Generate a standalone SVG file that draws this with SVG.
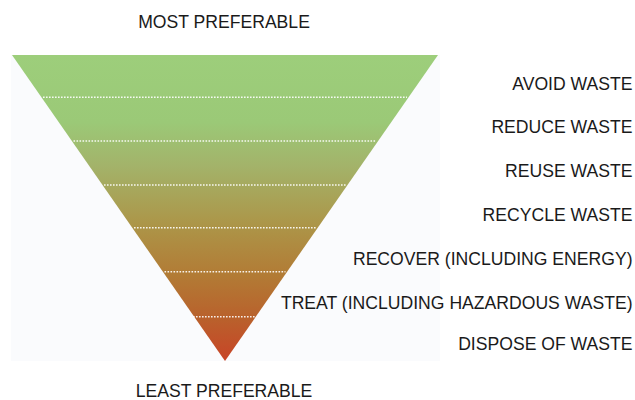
<svg xmlns="http://www.w3.org/2000/svg" width="635" height="400" viewBox="0 0 635 400">
  <style>
    text { font-family: "Liberation Sans", Arial, Helvetica, sans-serif; font-size: 17.6px; fill: #1a1a1a; }
    .lbl { text-anchor: end; }
    .ttl { text-anchor: middle; }
    .sep { stroke: #ffffff; stroke-width: 1.6; stroke-dasharray: 1.6 1.4; opacity: 0.9; fill: none; }
  </style>
  <defs>
    <linearGradient id="grad" x1="0" y1="55" x2="0" y2="361" gradientUnits="userSpaceOnUse">
      <stop offset="0" stop-color="#9dce7b"/>
      <stop offset="0.22" stop-color="#9bc977"/>
      <stop offset="0.36" stop-color="#a3b36a"/>
      <stop offset="0.55" stop-color="#ac9649"/>
      <stop offset="0.72" stop-color="#b27b35"/>
      <stop offset="0.86" stop-color="#b9612c"/>
      <stop offset="1" stop-color="#c84427"/>
    </linearGradient>
  </defs>
  <rect x="0" y="0" width="635" height="400" fill="#ffffff"/>
  <rect x="11" y="55" width="429" height="306" fill="#fafbfd"/>
  <g id="pyramid">
    <polygon points="12,55 438,55 225,361" fill="url(#grad)"/>
  </g>
  <g id="separators">
    <line class="sep" x1="43" y1="97.3" x2="407" y2="97.3"/>
    <line class="sep" x1="73.5" y1="141" x2="376.5" y2="141"/>
    <line class="sep" x1="104" y1="185" x2="346" y2="185"/>
    <line class="sep" x1="134" y1="227.7" x2="316" y2="227.7"/>
    <line class="sep" x1="164.5" y1="271.7" x2="285.5" y2="271.7"/>
    <line class="sep" x1="190" y1="316.7" x2="256" y2="316.7"/>
  </g>
  <g id="title-top"><text class="ttl" x="224" y="28">MOST PREFERABLE</text></g>
  <g id="title-bottom"><text class="ttl" x="224" y="397">LEAST PREFERABLE</text></g>
  <g id="avoid"><text class="lbl" x="632.5" y="90">AVOID WASTE</text></g>
  <g id="reduce"><text class="lbl" x="632.5" y="133">REDUCE WASTE</text></g>
  <g id="reuse"><text class="lbl" x="632.5" y="177">REUSE WASTE</text></g>
  <g id="recycle"><text class="lbl" x="632.5" y="221">RECYCLE WASTE</text></g>
  <g id="recover"><text class="lbl" x="632.5" y="265">RECOVER (INCLUDING ENERGY)</text></g>
  <g id="treat"><text class="lbl" x="632.5" y="309">TREAT (INCLUDING HAZARDOUS WASTE)</text></g>
  <g id="dispose"><text class="lbl" x="632.5" y="350">DISPOSE OF WASTE</text></g>
</svg>
